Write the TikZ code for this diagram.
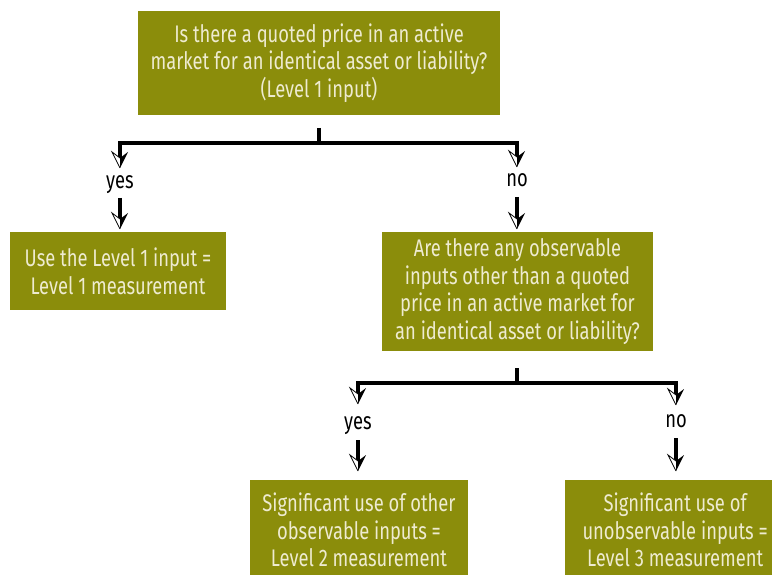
\documentclass[tikz,border=0pt]{standalone}
\usepackage{fontspec}
\setmainfont{Fira Sans}[FakeStretch=0.765]
\usetikzlibrary{decorations.markings}
\definecolor{boxolive}{RGB}{139,141,11}
\definecolor{boxtext}{RGB}{238,235,208}
\tikzset{
  box/.style={fill=boxolive, text=boxtext, align=center, inner sep=0pt,
    font=\fontsize{24}{27.7}\selectfont},
  lbl/.style={inner sep=0pt, anchor=base, font=\fontsize{24}{26}\selectfont},
  conn/.style={line width=3.5pt, line join=miter},
  harr/.style={postaction={decorate}, decoration={markings, mark=at position 1 with {
      \fill[white] (10pt,0pt) -- (-6pt,-8pt) -- (0pt,0pt) -- cycle;
      \fill[black] (10pt,0pt) -- (-6pt,8pt) -- (0pt,0pt) -- cycle;
      \draw[black, line width=0.8pt, line join=miter] (0pt,0pt) -- (-6pt,-8pt) -- (10pt,0pt);
    }}},
}
\begin{document}
\begin{tikzpicture}[x=1pt,y=1pt]
\useasboundingbox (0,0) rectangle (772,-575);
\begin{scope}
\clip (0,0) rectangle (772,-575);
% boxes
\node[box, minimum width=362pt, minimum height=104pt] (q1) at (319,-63)
  {Is there a quoted price in an active\\market for an identical asset or liability?\\(Level 1 input)};
\node[box, minimum width=216pt, minimum height=78pt] (l1) at (118,-271)
  {Use the Level 1 input =\\Level 1 measurement};
\node[box, minimum width=271pt, minimum height=119pt] (q2) at (517.5,-291.5)
  {Are there any observable\\inputs other than a quoted\\price in an active market for\\an identical asset or liability?};
\node[box, minimum width=218pt, minimum height=100pt] (l2) at (359,-530)
  {Significant use of other\\observable inputs =\\Level 2 measurement};
\node[box, minimum width=220pt, minimum height=100pt, anchor=west] (l3) at (565,-530)
  {Significant use of\\unobservable inputs =\\Level 3 measurement};
% labels
\node[lbl] (y1) at (120,-189) {yes};
\node[lbl] (n1) at (517,-187) {no};
\node[lbl] (y2) at (358,-429) {yes};
\node[lbl] (n2) at (676,-427) {no};
% coordinates
\coordinate (s1) at (319,-128);
\coordinate (j1) at (319,-143);
\coordinate (a1) at (120,-158);
\coordinate (a2) at (517,-157);
\coordinate (b1) at (120,-198);
\coordinate (b1e) at (120,-219);
\coordinate (b2) at (517,-197);
\coordinate (b2e) at (517,-219);
\coordinate (s2) at (517,-368);
\coordinate (j2) at (517,-383);
\coordinate (c1) at (358,-394);
\coordinate (c2) at (676,-395);
\coordinate (d1) at (358,-440);
\coordinate (d1e) at (358,-461);
\coordinate (d2) at (676,-438);
\coordinate (d2e) at (676,-461);
% connectors
\draw[conn] (s1) -- (j1);
\draw[conn, harr] (j1) -| (a1);
\draw[conn, harr] (j1) -| (a2);
\draw[conn, harr] (b1) -- (b1e);
\draw[conn, harr] (b2) -- (b2e);
\draw[conn] (s2) -- (j2);
\draw[conn, harr] (j2) -| (c1);
\draw[conn, harr] (j2) -| (c2);
\draw[conn, harr] (d1) -- (d1e);
\draw[conn, harr] (d2) -- (d2e);
\end{scope}
\end{tikzpicture}
\end{document}
